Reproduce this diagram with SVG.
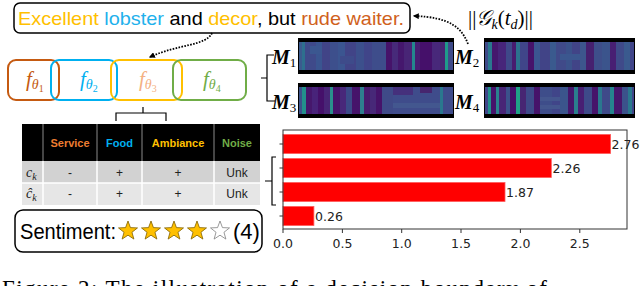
<svg xmlns="http://www.w3.org/2000/svg" xmlns:xlink="http://www.w3.org/1999/xlink" width="640" height="286" viewBox="0 0 640 286">
<style>
.dot{fill:none;stroke:#000;stroke-width:1.8;stroke-dasharray:1.6 1.4}
.br{fill:none;stroke:#000;stroke-width:1.2}
.fb{fill:none;stroke-width:2}
.fl{font-family:"Liberation Serif",serif;font-style:italic}
.ml{font-family:"Liberation Serif",serif;font-weight:bold;font-style:italic;font-size:20px;fill:#000}
.ms{font-family:"Liberation Serif",serif;font-size:13px;fill:#000}
.th{font-family:"Liberation Sans",sans-serif;font-weight:bold;font-size:11px;text-anchor:middle}
.td{font-family:"Liberation Sans",sans-serif;font-size:12px;text-anchor:middle;fill:#222}
.tk{font-family:"DejaVu Sans",sans-serif;font-size:12.5px;fill:#222}
.bar{fill:#ff0000;stroke:#ff5a5a;stroke-width:0.8}
.ax{fill:none;stroke:#333;stroke-width:1}
</style>
<defs>
<marker id="ah" viewBox="0 0 10 10" refX="8" refY="5" markerWidth="6" markerHeight="6" orient="auto" markerUnits="userSpaceOnUse">
<path d="M0,0 L10,5 L0,10 z" fill="#000"/>
</marker>
<polygon id="star" points="0,-10 2.45,-3.38 9.51,-3.09 3.97,1.29 5.88,8.09 0,4.18 -5.88,8.09 -3.97,1.29 -9.51,-3.09 -2.45,-3.38"/>
</defs>

<!-- sentence -->
<g id="sentence">
<rect x="14" y="3" width="396" height="30" rx="6" fill="#fff" stroke="#000" stroke-width="1.5"/>
<text x="18" y="25" font-family="Liberation Sans, sans-serif" font-size="18.5" textLength="386" lengthAdjust="spacingAndGlyphs"><tspan fill="#FFC000">Excellent</tspan> <tspan fill="#1FB1EC">lobster</tspan> <tspan fill="#000">and</tspan> <tspan fill="#FFC000">decor</tspan><tspan fill="#000">, but</tspan> <tspan fill="#D0611C">rude waiter.</tspan></text>
</g>

<g id="norm-label">
<text x="468" y="25" font-family="Liberation Serif, DejaVu Serif, serif" font-size="21" fill="#000">||<tspan font-style="italic">𝒢</tspan><tspan font-style="italic" font-size="14" dy="4">k</tspan><tspan dy="-4">(</tspan><tspan font-style="italic">t</tspan><tspan font-style="italic" font-size="14" dy="4">d</tspan><tspan dy="-4">)||</tspan></text>
</g>

<!-- f boxes -->
<g id="f1">
<rect class="fb" x="8" y="60" width="51" height="40" rx="8" stroke="#C55A11"/>
<text class="fl" x="26" y="86" fill="#C55A11" font-size="21">f<tspan font-size="14" dy="3">θ</tspan><tspan font-size="10" font-style="normal" dy="3">1</tspan></text>
</g>
<g id="f2">
<rect class="fb" x="51" y="60" width="66" height="40" rx="8" stroke="#00B0F0"/>
<text class="fl" x="80" y="86" fill="#00B0F0" font-size="21">f<tspan font-size="14" dy="3">θ</tspan><tspan font-size="10" font-style="normal" dy="3">2</tspan></text>
</g>
<g id="f3">
<rect class="fb" x="111" y="60" width="71" height="40" rx="8" stroke="#FFC000"/>
<text class="fl" x="139" y="86" fill="#F4B183" font-size="21">f<tspan font-size="14" dy="3">θ</tspan><tspan font-size="10" font-style="normal" dy="3">3</tspan></text>
</g>
<g id="f4">
<rect class="fb" x="173" y="60" width="73" height="40" rx="8" stroke="#70AD47"/>
<text class="fl" x="203" y="86" fill="#70AD47" font-size="21">f<tspan font-size="14" dy="3">θ</tspan><tspan font-size="10" font-style="normal" dy="3">4</tspan></text>
</g>

<!-- heatmaps -->
<g id="M1">
<rect x="298" y="38" width="156" height="36" fill="#000"/>
<g transform="translate(0,42)">
<rect x="299" width="3" height="28" fill="#3b5a8e"/>
<rect x="302" width="3" height="28" fill="#2e6f8e"/>
<rect x="305" width="11" height="28" fill="#3f4a8a"/>
<rect x="316" width="6" height="28" fill="#3a5590"/>
<rect x="322" width="8" height="28" fill="#414487"/>
<rect x="330" width="8" height="28" fill="#3d4f8c"/>
<rect x="338" width="7" height="28" fill="#3b5590"/>
<rect x="345" width="11" height="28" fill="#414487"/>
<rect x="356" width="8" height="28" fill="#3c508c"/>
<rect x="364" width="8" height="28" fill="#404589"/>
<rect x="372" width="14" height="28" fill="#3e4d8b"/>
<rect x="386" width="6" height="28" fill="#46136a"/>
<rect x="392" width="6" height="28" fill="#472a7a"/>
<rect x="398" width="6" height="28" fill="#45176d"/>
<rect x="404" width="8" height="28" fill="#482576"/>
<rect x="412" width="3" height="28" fill="#23898e"/>
<rect x="415" width="5" height="28" fill="#471f73"/>
<rect x="420" width="12" height="28" fill="#45106a"/>
<rect x="432" width="8" height="28" fill="#48287a"/>
<rect x="440" width="5" height="28" fill="#472573"/>
<rect x="445" width="3" height="28" fill="#1f9a8a"/>
<rect x="448" width="5" height="28" fill="#3e4a89"/>
<rect x="310" y="4" width="12" height="8" fill="#3b5790"/>
<rect x="340" y="14" width="14" height="8" fill="#3e4b8a"/>
</g>
<text class="ml" x="272" y="64">M<tspan class="ms" font-weight="normal" font-style="normal" dy="3">1</tspan></text>
</g>

<g id="M2">
<rect x="484" y="38" width="151" height="36" fill="#000"/>
<g transform="translate(0,42)">
<rect x="485" width="3" height="28" fill="#3e4a89"/>
<rect x="488" width="4" height="28" fill="#2a788e"/>
<rect x="492" width="6" height="28" fill="#45186d"/>
<rect x="498" width="8" height="28" fill="#47257a"/>
<rect x="506" width="6" height="28" fill="#3f4889"/>
<rect x="512" width="4" height="28" fill="#481c6f"/>
<rect x="516" width="4" height="28" fill="#2c728e"/>
<rect x="520" width="8" height="28" fill="#404589"/>
<rect x="528" width="6" height="28" fill="#46136a"/>
<rect x="534" width="6" height="28" fill="#3b5590"/>
<rect x="540" width="10" height="28" fill="#414487"/>
<rect x="550" width="6" height="28" fill="#3a5a8e"/>
<rect x="556" width="10" height="28" fill="#404a89"/>
<rect x="566" width="6" height="28" fill="#3b528b"/>
<rect x="572" width="8" height="28" fill="#414487"/>
<rect x="580" width="6" height="28" fill="#3d568d"/>
<rect x="586" width="8" height="28" fill="#46206f"/>
<rect x="594" width="8" height="28" fill="#3e4e8a"/>
<rect x="602" width="8" height="28" fill="#3b548c"/>
<rect x="610" width="6" height="28" fill="#481f73"/>
<rect x="616" width="8" height="28" fill="#3f4a89"/>
<rect x="624" width="6" height="28" fill="#3a5a8e"/>
<rect x="630" width="4" height="28" fill="#404589"/>
<rect x="560" y="12" width="20" height="6" fill="#3b578f"/>
</g>
<text class="ml" x="455" y="64">M<tspan class="ms" font-weight="normal" font-style="normal" dy="3">2</tspan></text>
</g>

<g id="M3">
<rect x="298" y="83" width="156" height="35" fill="#000"/>
<g transform="translate(0,87)">
<rect x="299" width="3" height="27" fill="#3b528b"/>
<rect x="302" width="4" height="27" fill="#22908c"/>
<rect x="306" width="6" height="27" fill="#46176c"/>
<rect x="312" width="6" height="27" fill="#48237a"/>
<rect x="318" width="6" height="27" fill="#45106a"/>
<rect x="324" width="6" height="27" fill="#482576"/>
<rect x="330" width="3" height="27" fill="#2a8f8c"/>
<rect x="333" width="7" height="27" fill="#46146b"/>
<rect x="340" width="6" height="27" fill="#48287a"/>
<rect x="346" width="6" height="27" fill="#3b4a88"/>
<rect x="352" width="8" height="27" fill="#46136a"/>
<rect x="360" width="4" height="27" fill="#2e7f8e"/>
<rect x="364" width="6" height="27" fill="#481c6f"/>
<rect x="370" width="6" height="27" fill="#472878"/>
<rect x="376" width="6" height="27" fill="#46136a"/>
<rect x="382" width="11" height="27" fill="#3f4a88"/>
<rect x="393" width="60" height="27" fill="#3f4c8b"/>
<rect x="393" width="20" height="8" fill="#45307c"/>
<rect x="420" width="12" height="6" fill="#46266f"/>
<rect x="393" y="16" width="50" height="5" fill="#43578f"/>
<rect x="440" width="3" height="27" fill="#2a788e"/>
</g>
<text class="ml" x="272" y="109">M<tspan class="ms" font-weight="normal" font-style="normal" dy="3">3</tspan></text>
</g>

<g id="M4">
<rect x="484" y="83" width="151" height="35" fill="#000"/>
<g transform="translate(0,87)">
<rect x="485" width="3" height="27" fill="#404589"/>
<rect x="488" width="3" height="27" fill="#22908c"/>
<rect x="491" width="5" height="27" fill="#46136a"/>
<rect x="496" width="3" height="27" fill="#2a838e"/>
<rect x="499" width="7" height="27" fill="#482576"/>
<rect x="506" width="4" height="27" fill="#3b528b"/>
<rect x="510" width="6" height="27" fill="#45106a"/>
<rect x="516" width="4" height="27" fill="#1fa187"/>
<rect x="520" width="6" height="27" fill="#472573"/>
<rect x="526" width="8" height="27" fill="#3e4a89"/>
<rect x="534" width="6" height="27" fill="#46136a"/>
<rect x="540" width="12" height="27" fill="#3e4d8a"/>
<rect x="552" width="8" height="27" fill="#404589"/>
<rect x="560" width="8" height="27" fill="#3b558c"/>
<rect x="568" width="6" height="27" fill="#45186d"/>
<rect x="574" width="4" height="27" fill="#2a7f8e"/>
<rect x="578" width="6" height="27" fill="#481f73"/>
<rect x="584" width="8" height="27" fill="#3e4a89"/>
<rect x="592" width="6" height="27" fill="#46136a"/>
<rect x="598" width="4" height="27" fill="#2a788e"/>
<rect x="602" width="8" height="27" fill="#3f4a89"/>
<rect x="610" width="4" height="27" fill="#25858e"/>
<rect x="614" width="8" height="27" fill="#45186d"/>
<rect x="622" width="6" height="27" fill="#3b528b"/>
<rect x="628" width="4" height="27" fill="#2a788e"/>
<rect x="632" width="2" height="27" fill="#404589"/>
<rect x="540" y="10" width="20" height="4" fill="#44568e"/>
<rect x="540" y="18" width="20" height="4" fill="#44568e"/>
</g>
<text class="ml" x="455" y="109">M<tspan class="ms" font-weight="normal" font-style="normal" dy="3">4</tspan></text>
</g>

<!-- table -->
<g id="table">
<rect x="22" y="124" width="238" height="37" fill="#000"/>
<rect x="22" y="161" width="238" height="22" fill="#D2D2D2"/>
<rect x="22" y="183" width="238" height="22" fill="#E6E6E6"/>
<g stroke="#8a8a8a" stroke-width="1">
<line x1="43" y1="124" x2="43" y2="161"/><line x1="97" y1="124" x2="97" y2="161"/><line x1="142" y1="124" x2="142" y2="161"/><line x1="214" y1="124" x2="214" y2="161"/>
</g>
<g stroke="#fff" stroke-width="1.5">
<line x1="43" y1="161" x2="43" y2="205"/><line x1="97" y1="161" x2="97" y2="205"/><line x1="142" y1="161" x2="142" y2="205"/><line x1="214" y1="161" x2="214" y2="205"/>
<line x1="22" y1="183" x2="260" y2="183"/>
</g>
<text class="th" x="70" y="147" fill="#ED7D31">Service</text>
<text class="th" x="119.5" y="147" fill="#00B0F0">Food</text>
<text class="th" x="178" y="147" fill="#FFC000">Ambiance</text>
<text class="th" x="237" y="147" fill="#70AD47">Noise</text>
<text x="26" y="177" font-family="Liberation Serif, serif" font-style="italic" font-size="14" fill="#222">c<tspan font-size="10" dy="3">k</tspan></text>
<text x="26" y="198" font-family="Liberation Serif, serif" font-style="italic" font-size="14" fill="#222">ĉ<tspan font-size="10" dy="3">k</tspan></text>
<text class="td" x="70" y="177">-</text><text class="td" x="119.5" y="177">+</text><text class="td" x="178" y="177">+</text><text class="td" x="237" y="177">Unk</text>
<text class="td" x="70" y="198">-</text><text class="td" x="119.5" y="198">+</text><text class="td" x="178" y="198">+</text><text class="td" x="237" y="198">Unk</text>
</g>

<!-- sentiment -->
<g id="sentiment">
<rect x="15" y="210" width="247" height="42" rx="8" fill="#fff" stroke="#000" stroke-width="1.5"/>
<text x="20" y="239" font-family="Liberation Sans, sans-serif" font-size="22" fill="#000" textLength="96" lengthAdjust="spacingAndGlyphs">Sentiment:</text>
<g stroke="#7F6000" stroke-width="0.8" fill="#FFC000">
<use xlink:href="#star" href="#star" x="128" y="231"/>
<use xlink:href="#star" href="#star" x="151" y="231"/>
<use xlink:href="#star" href="#star" x="174" y="231"/>
<use xlink:href="#star" href="#star" x="197" y="231"/>
</g>
<use xlink:href="#star" href="#star" x="220" y="231" fill="#fff" stroke="#808080" stroke-width="0.8"/>
<text x="233" y="239" font-family="Liberation Sans, sans-serif" font-size="22" fill="#000">(4)</text>
</g>

<!-- bar chart -->
<g id="chart">
<rect class="bar" x="283" y="134.5" width="327.6" height="19"/>
<rect class="bar" x="283" y="158.5" width="268.3" height="19"/>
<rect class="bar" x="283" y="182.5" width="222" height="19"/>
<rect class="bar" x="283" y="206.5" width="30.9" height="19"/>
<rect class="ax" x="283" y="130" width="344" height="99"/>
<g stroke="#333" stroke-width="1">
<line x1="279.5" y1="144" x2="283" y2="144"/><line x1="279.5" y1="168" x2="283" y2="168"/><line x1="279.5" y1="192" x2="283" y2="192"/><line x1="279.5" y1="216" x2="283" y2="216"/>
<line x1="283" y1="229" x2="283" y2="233"/><line x1="342.4" y1="229" x2="342.4" y2="233"/><line x1="401.7" y1="229" x2="401.7" y2="233"/><line x1="461" y1="229" x2="461" y2="233"/><line x1="520.4" y1="229" x2="520.4" y2="233"/><line x1="579.8" y1="229" x2="579.8" y2="233"/>
</g>
<text class="tk" x="611.5" y="149">2.76</text>
<text class="tk" x="552.5" y="173">2.26</text>
<text class="tk" x="506" y="197">1.87</text>
<text class="tk" x="315" y="221">0.26</text>
<g text-anchor="middle">
<text class="tk" x="283" y="248">0.0</text><text class="tk" x="342.4" y="248">0.5</text><text class="tk" x="401.7" y="248">1.0</text><text class="tk" x="461" y="248">1.5</text><text class="tk" x="520.4" y="248">2.0</text><text class="tk" x="579.8" y="248">2.5</text>
</g>
</g>

<!-- connectors -->
<g id="connectors">
<path class="dot" d="M212,33 C206,46 178,44 150,57" marker-end="url(#ah)"/>
<path class="dot" d="M468,44 C462,28 450,17 414,16" marker-end="url(#ah)"/>
<path class="br" d="M116,121 V113 H166 V121 M143,113 V107"/>
<path class="br" d="M274,55 H267 V101 H275 M267,78 H261"/>
<path class="br" d="M276,157 H272 V205 H276 M272,181 H265"/>
</g>

<text x="2" y="296" font-family="Liberation Serif, serif" font-size="23" fill="#000" textLength="545" lengthAdjust="spacing">Figure 2: The illustration of a decision boundary of</text>
</svg>
